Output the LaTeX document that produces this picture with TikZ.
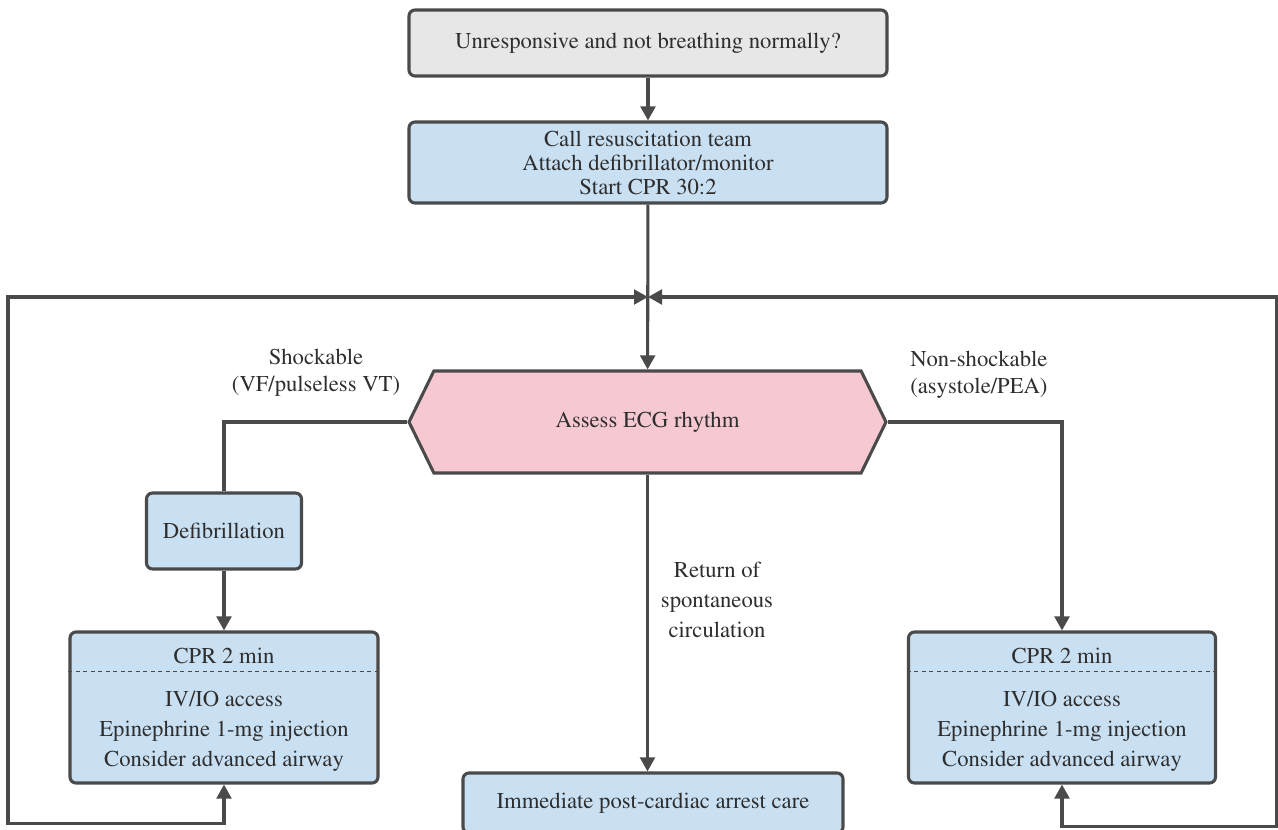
\documentclass[tikz,border=0pt]{standalone}
\usepackage[T1]{fontenc}
\usepackage{mathptmx}
\usetikzlibrary{arrows.meta,shapes.symbols}

\definecolor{lineC}{HTML}{4A4A4A}
\definecolor{textC}{HTML}{2E2E2E}
\definecolor{grayF}{HTML}{E7E7E7}
\definecolor{blueF}{HTML}{C9E0F3}
\definecolor{pinkF}{HTML}{F6C8D2}

\tikzset{
  box/.style={draw=lineC, line width=2.3pt, rounded corners=4.5pt, align=center, inner sep=0pt},
  graybox/.style={box, fill=grayF},
  bluebox/.style={box, fill=blueF},
  hexbox/.style={draw=lineC, line width=2.3pt, fill=pinkF, shape=signal, signal to=east and west,
                 signal pointer angle=128, inner sep=0pt},
  link/.style={draw=lineC, line width=2.3pt},
  arr/.style={link, -{Triangle[length=10.5pt,width=11pt]}},
  arrs/.style={link, {Triangle[length=10.5pt,width=11pt]}-{Triangle[length=10.5pt,width=11pt]}},
  divider/.style={draw=lineC, line width=1.4pt, dash pattern=on 3pt off 2.6pt},
  lbl/.style={align=center, inner sep=0pt}
}

\begin{document}
\begin{tikzpicture}[x=0.75pt,y=0.75pt,yscale=-1, every node/.style={text=textC, font=\rmfamily\fontsize{17}{22.5}\selectfont}]
\useasboundingbox[fill=white] (0,0) rectangle (1278,830);

%Boxes
\node[graybox, minimum width=358.5pt, minimum height=49.5pt] (unresp) at (648,43) {Unresponsive and not breathing normally?};
\node[bluebox, minimum width=358.5pt, minimum height=60.75pt, font=\rmfamily\fontsize{17}{18}\selectfont] (call) at (648,162.5) {Call resuscitation team\\Attach defibrillator/monitor\\Start CPR 30:2};
\node[hexbox, minimum width=357.75pt, minimum height=76.5pt] (assess) at (647.5,422) {Assess ECG rhythm};
\node[bluebox, minimum width=116.25pt, minimum height=57pt] (defib) at (224,531) {Defibrillation};
\node[bluebox, minimum width=231pt, minimum height=113.25pt] (lcpr) at (224,707.5) {};
\node[bluebox, minimum width=230.25pt, minimum height=113.25pt] (rcpr) at (1062,707.5) {};
\node[bluebox, minimum width=285pt, minimum height=45pt] (post) at (653,803) {Immediate post-cardiac arrest care};

%CPR box contents
\draw[divider] ([yshift=30.75pt]lcpr.north west) -- ([yshift=30.75pt]lcpr.north east);
\draw[divider] ([yshift=30.75pt]rcpr.north west) -- ([yshift=30.75pt]rcpr.north east);
\node[lbl] (lcprhead) at (224,656) {CPR 2 min};
\node[lbl] (lcprbody) at (224,731) {IV/IO access\\Epinephrine 1-mg injection\\Consider advanced airway};
\node[lbl] (rcprhead) at (1062,656) {CPR 2 min};
\node[lbl] (rcprbody) at (1062,731) {IV/IO access\\Epinephrine 1-mg injection\\Consider advanced airway};

% Text Node
\node[lbl, font=\rmfamily\fontsize{17}{20.5}\selectfont] (shock) at (316,373) {Shockable\\(VF/pulseless VT)};
% Text Node
\node[lbl, anchor=west, align=left, font=\rmfamily\fontsize{17}{20.5}\selectfont] (nonshock) at (910,375) {Non-shockable\\(asystole/PEA)};
% Text Node
\node[lbl] (rosc) at (717,600) {Return of\\spontaneous\\circulation};

%Connectors
\coordinate (jn) at (648,297);
\draw[arr] (unresp) -- (call);
\draw[arr] (call) -- (assess);
\draw[link] (assess.west) -| (defib.north);
\draw[arr] (defib) -- (lcpr);
\draw[arr] (assess.east) -| (rcpr.north);
\draw[arr] (assess.south) -- (assess.south |- post.north);

%Loops back
\draw[arrs] (lcpr.south) -- ++(0,39) -| (8,297) -- (jn);
\draw[arrs] (rcpr.south) -- ++(0,42) -| (1276.5,297) -- (jn);

\end{tikzpicture}
\end{document}
